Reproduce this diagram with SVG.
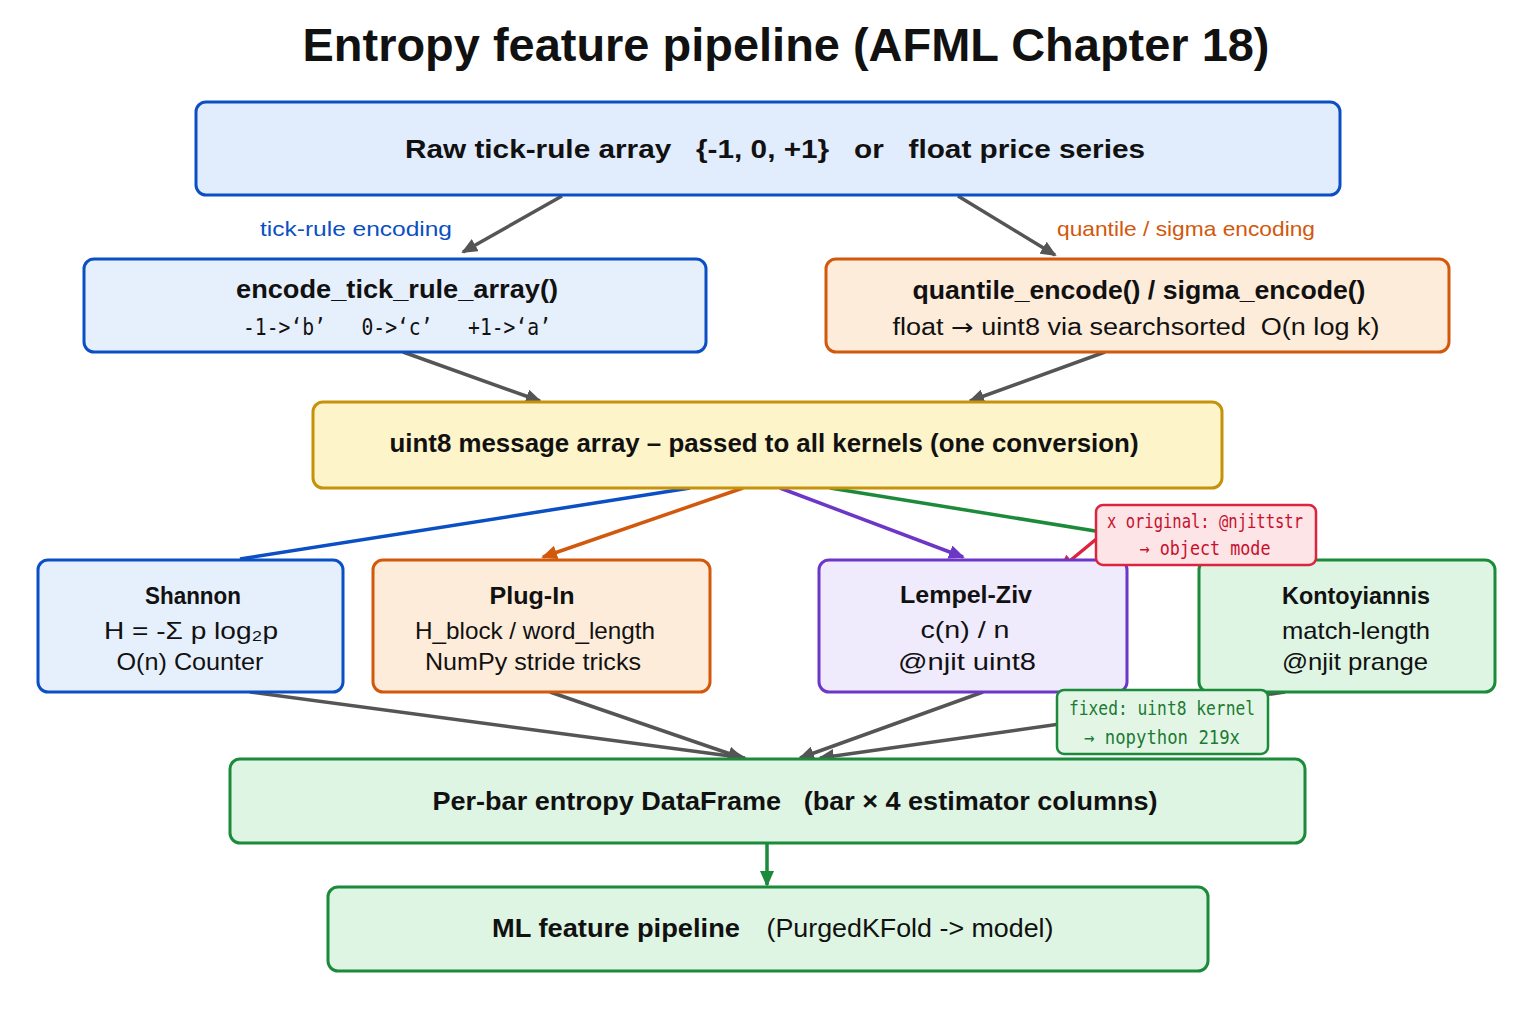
<svg xmlns="http://www.w3.org/2000/svg" width="1536" height="1024" viewBox="0 0 1536 1024">
<style>
.t{font-family:"Liberation Sans","DejaVu Sans",sans-serif;fill:#111;text-anchor:middle}
.b{font-weight:bold}
.m{font-family:"DejaVu Sans Mono","Liberation Mono",monospace;fill:#111;text-anchor:middle}
.box{stroke-width:3}
.blue{fill:#e1ecfc;stroke:#0a4fc4}
.orange{fill:#fdecd9;stroke:#d2580c}
.yellow{fill:#fdf4c9;stroke:#c6920a}
.purple{fill:#efeafc;stroke:#6c36c6}
.green{fill:#ddf5e2;stroke:#1b8a3a}
.red{fill:#fde4e6;stroke:#dc2440}
.c{fill:none;stroke-width:3.5}
</style>
<defs>
<marker id="ag" markerUnits="userSpaceOnUse" markerWidth="16" markerHeight="14" refX="14" refY="7" orient="auto"><path d="M0,0 L16,7 L0,14 z" fill="#555"/></marker>
<marker id="ao" markerUnits="userSpaceOnUse" markerWidth="16" markerHeight="14" refX="14" refY="7" orient="auto"><path d="M0,0 L16,7 L0,14 z" fill="#d2580c"/></marker>
<marker id="ap" markerUnits="userSpaceOnUse" markerWidth="16" markerHeight="14" refX="14" refY="7" orient="auto"><path d="M0,0 L16,7 L0,14 z" fill="#6c36c6"/></marker>
<marker id="ar" markerUnits="userSpaceOnUse" markerWidth="16" markerHeight="14" refX="14" refY="7" orient="auto"><path d="M0,0 L16,7 L0,14 z" fill="#dc2440"/></marker>
<marker id="agr" markerUnits="userSpaceOnUse" markerWidth="16" markerHeight="14" refX="14" refY="7" orient="auto"><path d="M0,0 L16,7 L0,14 z" fill="#1b8a3a"/></marker>
</defs>
<rect width="1536" height="1024" fill="#ffffff"/>
<text class="t b" x="786" y="61" font-size="46" textLength="967" lengthAdjust="spacingAndGlyphs">Entropy feature pipeline (AFML Chapter 18)</text>

<g id="connectors">
<path class="c" d="M562,196 L463,252" stroke="#555" marker-end="url(#ag)"/>
<path class="c" d="M958,196 L1055,255" stroke="#555" marker-end="url(#ag)"/>
<path class="c" d="M403,352 L540,401" stroke="#555" marker-end="url(#ag)"/>
<path class="c" d="M1105,352 L970,401" stroke="#555" marker-end="url(#ag)"/>
<path class="c" d="M690,488 L240,559" stroke="#0a4fc4"/>
<path class="c" d="M743,488 L543,557" stroke="#d2580c" marker-end="url(#ao)"/>
<path class="c" d="M780,488 L963,557" stroke="#6c36c6" marker-end="url(#ap)"/>
<path class="c" d="M830,488 Q980,512 1120,535 L1290,560" stroke="#1b8a3a"/>
<path class="c" d="M250,692 L745,758" stroke="#555" marker-end="url(#ag)"/>
<path class="c" d="M550,692 L742,758" stroke="#555" marker-end="url(#ag)"/>
<path class="c" d="M983,692 L800,758" stroke="#555" marker-end="url(#ag)"/>
<path class="c" d="M1285,692 L820,758" stroke="#555" marker-end="url(#ag)"/>
<path class="c" d="M767,843 L767,885" stroke="#1b8a3a" stroke-width="3" marker-end="url(#agr)"/>
<path class="c" d="M1100,536 L1060,569" stroke="#dc2440" stroke-width="3" marker-end="url(#ar)"/>
</g>

<text class="t" x="356" y="236" font-size="21" style="fill:#0a4fc4" textLength="192" lengthAdjust="spacingAndGlyphs">tick-rule encoding</text>
<text class="t" x="1186" y="236" font-size="21" style="fill:#d2580c" textLength="258" lengthAdjust="spacingAndGlyphs">quantile / sigma encoding</text>

<g id="raw">
<rect class="box blue" x="196" y="102" width="1144" height="93" rx="10"/>
<text class="t b" x="775" y="158" font-size="26" xml:space="preserve" textLength="740" lengthAdjust="spacingAndGlyphs">Raw tick-rule array   {-1, 0, +1}   or   float price series</text>
</g>
<g id="encode">
<rect class="box blue" x="84" y="259" width="622" height="93" rx="10" style="fill:#e6effc"/>
<text class="t b" x="397" y="298" font-size="25" textLength="322" lengthAdjust="spacingAndGlyphs">encode_tick_rule_array()</text>
<text class="m" x="397" y="335" font-size="23" xml:space="preserve" textLength="308" lengthAdjust="spacingAndGlyphs">-1->‘b’   0->‘c’   +1->‘a’</text>
</g>
<g id="quantile">
<rect class="box orange" x="826" y="259" width="623" height="93" rx="10"/>
<text class="t b" x="1139" y="299" font-size="25" textLength="453" lengthAdjust="spacingAndGlyphs">quantile_encode() / sigma_encode()</text>
<text class="t" x="1136" y="335" font-size="23" xml:space="preserve" textLength="487" lengthAdjust="spacingAndGlyphs">float <tspan font-family="DejaVu Sans, sans-serif">→</tspan> uint8 via searchsorted  O(n log k)</text>
</g>
<g id="uint8">
<rect class="box yellow" x="313" y="402" width="909" height="86" rx="10"/>
<text class="t b" x="764" y="452" font-size="25" textLength="749" lengthAdjust="spacingAndGlyphs">uint8 message array – passed to all kernels (one conversion)</text>
</g>
<g id="shannon">
<rect class="box blue" x="38" y="560" width="305" height="132" rx="10" style="fill:#e6effc"/>
<text class="t b" x="193" y="604" font-size="23" textLength="96" lengthAdjust="spacingAndGlyphs">Shannon</text>
<text class="t" x="191" y="639" font-size="24" textLength="174" lengthAdjust="spacingAndGlyphs">H = -Σ p log₂p</text>
<text class="t" x="190" y="670" font-size="24" textLength="147" lengthAdjust="spacingAndGlyphs">O(n) Counter</text>
</g>
<g id="plugin">
<rect class="box orange" x="373" y="560" width="337" height="132" rx="10"/>
<text class="t b" x="532" y="604" font-size="23" textLength="85" lengthAdjust="spacingAndGlyphs">Plug-In</text>
<text class="t" x="535" y="639" font-size="24" textLength="240" lengthAdjust="spacingAndGlyphs">H_block / word_length</text>
<text class="t" x="533" y="670" font-size="24" textLength="216" lengthAdjust="spacingAndGlyphs">NumPy stride tricks</text>
</g>
<g id="lempelziv">
<rect class="box purple" x="819" y="560" width="308" height="132" rx="10"/>
<text class="t b" x="966" y="603" font-size="23" textLength="132" lengthAdjust="spacingAndGlyphs">Lempel-Ziv</text>
<text class="t" x="965" y="638" font-size="24" textLength="89" lengthAdjust="spacingAndGlyphs">c(n) / n</text>
<text class="t" x="967" y="670" font-size="24" textLength="138" lengthAdjust="spacingAndGlyphs">@njit uint8</text>
</g>
<g id="kontoyiannis">
<rect class="box green" x="1199" y="560" width="296" height="132" rx="10"/>
<text class="t b" x="1356" y="604" font-size="23" textLength="148" lengthAdjust="spacingAndGlyphs">Kontoyiannis</text>
<text class="t" x="1356" y="639" font-size="24" textLength="148" lengthAdjust="spacingAndGlyphs">match-length</text>
<text class="t" x="1355" y="670" font-size="24" textLength="146" lengthAdjust="spacingAndGlyphs">@njit prange</text>
</g>
<g id="callout-red">
<rect class="red" x="1096" y="505" width="220" height="60" rx="7" stroke-width="2.5"/>
<text class="m" x="1205" y="528" font-size="19" style="fill:#c8102e" textLength="196" lengthAdjust="spacingAndGlyphs">x original: @njittstr</text>
<text class="m" x="1205" y="555" font-size="19" style="fill:#c8102e" textLength="131" lengthAdjust="spacingAndGlyphs">→ object mode</text>
</g>
<g id="callout-green">
<rect class="green" x="1057" y="690" width="211" height="64" rx="7" stroke-width="2.5" style="fill:#e3f6e6"/>
<text class="m" x="1162" y="715" font-size="19" style="fill:#1b7a34" textLength="186" lengthAdjust="spacingAndGlyphs">fixed: uint8 kernel</text>
<text class="m" x="1162" y="744" font-size="19" style="fill:#1b7a34" textLength="156" lengthAdjust="spacingAndGlyphs">→ nopython 219x</text>
</g>
<g id="dataframe">
<rect class="box green" x="230" y="759" width="1075" height="84" rx="10"/>
<text class="t b" x="795" y="810" font-size="25" xml:space="preserve" textLength="725" lengthAdjust="spacingAndGlyphs">Per-bar entropy DataFrame   (bar × 4 estimator columns)</text>
</g>
<g id="mlpipeline">
<rect class="box green" x="328" y="887" width="880" height="84" rx="10"/>
<text class="t b" x="616" y="937" font-size="25" textLength="248" lengthAdjust="spacingAndGlyphs">ML feature pipeline</text>
<text class="t" x="910" y="937" font-size="25" textLength="287" lengthAdjust="spacingAndGlyphs">(PurgedKFold -&gt; model)</text>
</g>
</svg>
